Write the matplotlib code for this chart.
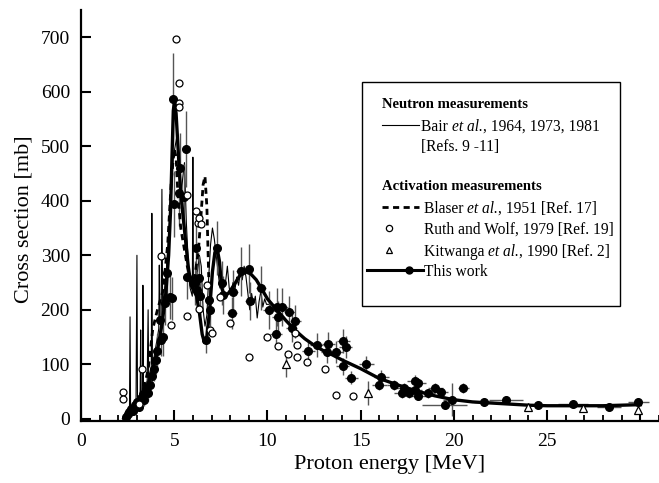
import numpy as np
import matplotlib
matplotlib.use('Agg')
import matplotlib.pyplot as plt
from matplotlib.patches import Rectangle
from matplotlib.lines import Line2D

plt.rcParams['font.family'] = 'Liberation Serif'

# Bair et al. neutron measurements (thin line)
bair_e = [2.3, 2.5, 2.6, 2.63, 2.66, 2.8, 2.95, 3.0, 3.03, 3.1,
          3.17, 3.2, 3.23, 3.3, 3.32, 3.35, 3.45, 3.55, 3.6, 3.63,
          3.7, 3.77, 3.8, 3.83, 3.9, 4.0, 4.1, 4.17, 4.2, 4.23,
          4.3, 4.34, 4.38, 4.45, 4.55, 4.65, 4.75, 4.85, 4.95, 5.05,
          5.15, 5.25, 5.35, 5.45, 5.55, 5.65, 5.75, 5.85, 5.97, 6.0,
          6.03, 6.25, 6.35, 6.45, 6.55, 6.65, 6.75, 6.85, 6.95, 7.05,
          7.15, 7.25, 7.35, 7.45, 7.55, 7.65, 7.75, 7.85, 7.95, 8.05,
          8.15, 8.25, 8.35, 8.45, 8.55, 8.65, 8.75, 8.85, 8.95, 9.05,
          9.15, 9.25, 9.35, 9.45, 9.55, 9.65, 9.75, 9.85, 9.95, 10.1,
          10.3, 10.5]
bair_xs = [3, 8, 12, 187, 14, 20, 25, 300, 28, 32,
           40, 163, 45, 50, 245, 55, 60, 70, 200, 75,
           85, 95, 377, 100, 110, 130, 150, 165, 282, 180,
           190, 421, 200, 230, 260, 310, 360, 420, 480, 500,
           520, 470, 400, 440, 470, 360, 290, 240, 225, 480,
           240, 270, 300, 280, 200, 170, 190, 260, 320, 350,
           330, 300, 270, 240, 260, 240, 250, 280, 240, 230,
           250, 235, 260, 245, 270, 255, 280, 260, 230, 200,
           230, 210, 225, 185, 215, 235, 205, 220, 210, 210,
           200, 195]

# Blaser et al. activation (dashed)
blaser_e = [3.0, 3.3, 3.6, 3.85, 4.1, 4.4, 4.65, 4.85, 5.0, 5.1, 5.2,
            5.35, 5.5, 5.7, 5.9, 6.1, 6.3, 6.45, 6.55, 6.65, 6.75, 6.85]
blaser_xs = [20, 45, 90, 165, 200, 235, 320, 440, 495, 480, 410,
             350, 320, 280, 250, 260, 310, 380, 430, 445, 390, 260]

# Ruth and Wolf (open circles)
rw_e = [2.25, 2.25, 3.1, 3.27, 4.3, 4.83, 5.09, 5.27, 5.27, 5.25,
        5.68, 5.68, 6.17, 6.28, 6.33, 6.43, 6.33, 6.76, 6.92, 7.0,
        7.45, 8.0, 9.0, 10.0, 10.56, 11.1, 11.5, 11.6, 11.6, 12.1,
        13.1, 13.7, 14.6]
rw_xs = [49, 37, 27, 92, 299, 172, 696, 616, 580, 572,
         410, 189, 381, 360, 368, 357, 201, 245, 163, 158,
         224, 176, 114, 150, 134, 119, 157, 135, 114, 105,
         91, 44, 42]

# Kitwanga et al. (open triangles)
kw_e = [11.0, 15.4, 24.0, 26.9, 29.9]
kw_xs = [100, 47, 22, 19, 16]
kw_dy = [24, 22, 4, 4, 4]

# This work: points with errors
tw_e = [2.4, 2.5, 2.6, 2.7, 2.8, 2.9, 3.0, 3.1, 3.2, 3.3,
        3.4, 3.5, 3.6, 3.7, 3.8, 3.9, 4.0, 4.1, 4.24, 4.3,
        4.4, 4.5, 4.6, 4.77, 4.9, 4.93, 4.99, 5.27, 5.3, 5.52,
        5.63, 5.68, 6.1, 6.17, 6.2, 6.33, 6.38, 6.7, 6.86, 6.92,
        7.28, 7.56, 7.6, 8.1, 8.15, 8.58, 9.0, 9.06, 9.65, 10.08,
        10.46, 10.5, 10.57, 10.8, 11.17, 11.3, 11.5, 12.2, 12.64, 13.2,
        13.25, 13.7, 14.03, 14.07, 14.2, 14.5, 15.3, 16.0, 16.1, 16.8,
        17.2, 17.3, 17.6, 17.9, 17.9, 18.1, 18.1, 18.6, 19.0, 19.3,
        19.5, 19.9, 20.5, 21.6, 22.8, 24.5, 26.4, 28.3, 29.9]
tw_xs = [4, 9, 13, 18, 14, 25, 30, 22, 38, 46,
         35, 55, 48, 62, 78, 92, 108, 125, 181, 145,
         150, 212, 267, 224, 221, 586, 394, 414, 460, 407,
         495, 260, 249, 313, 236, 258, 225, 145, 218, 200,
         313, 249, 227, 194, 233, 271, 275, 216, 240, 200,
         156, 205, 187, 205, 196, 166, 179, 125, 136, 123,
         137, 123, 96, 143, 132, 75, 100, 62, 77, 62,
         47, 56, 47, 70, 52, 65, 41, 47, 56, 49,
         26, 35, 57, 30, 35, 25, 28, 21, 31]
tw_dx = [0.08, 0.08, 0.1, 0.1, 0.1, 0.1, 0.1, 0.1, 0.1, 0.1,
         0.1, 0.1, 0.1, 0.1, 0.1, 0.1, 0.1, 0.1, 0.12, 0.12,
         0.12, 0.12, 0.12, 0.12, 0.12, 0.12, 0.12, 0.12, 0.12, 0.12,
         0.15, 0.15, 0.15, 0.15, 0.15, 0.15, 0.15, 0.15, 0.15, 0.15,
         0.2, 0.2, 0.2, 0.25, 0.25, 0.25, 0.25, 0.25, 0.25, 0.3,
         0.3, 0.3, 0.3, 0.3, 0.3, 0.3, 0.3, 0.35, 0.35, 0.35,
         0.35, 0.35, 0.35, 0.35, 0.35, 0.35, 0.4, 0.4, 0.4, 0.4,
         0.4, 0.4, 0.4, 0.4, 0.4, 0.4, 0.4, 0.4, 0.4, 0.4,
         1.2, 0.5, 0.3, 0.5, 0.9, 0.3, 0.8, 0.65, 0.55]
tw_dy = [3, 4, 5, 6, 6, 8, 10, 8, 12, 14,
         12, 15, 15, 18, 20, 22, 25, 30, 35, 30,
         35, 40, 45, 40, 40, 85, 60, 60, 65, 60,
         70, 40, 40, 45, 35, 40, 35, 25, 35, 30,
         50, 40, 35, 30, 40, 45, 45, 35, 40, 35,
         25, 35, 30, 35, 30, 25, 30, 20, 22, 20,
         22, 20, 16, 22, 20, 12, 15, 10, 12, 10,
         8, 9, 8, 10, 8, 10, 7, 8, 9, 8,
         6, 30, 9, 5, 7, 4, 5, 4, 6]

# This work: fitted curve
fit_e = [2.3, 2.6, 2.9, 3.2, 3.5, 3.8, 4.1, 4.35, 4.55, 4.7,
         4.8, 4.88, 4.95, 5.02, 5.1, 5.2, 5.3, 5.45, 5.6, 5.75,
         5.9, 6.05, 6.2, 6.35, 6.5, 6.62, 6.75, 6.9, 7.05, 7.18,
         7.3, 7.42, 7.55, 7.7, 7.9, 8.2, 8.5, 8.8, 9.1, 9.4,
         9.7, 10.0, 10.5, 11.0, 11.5, 12.0, 12.5, 13.0, 13.5, 14.0,
         15, 16, 17, 18, 19, 20, 21, 22, 23, 24, 25, 26, 27, 28, 29, 30]
fit_xs = [0, 8, 20, 35, 55, 85, 125, 175, 230, 300,
          380, 480, 565, 585, 560, 500, 440, 380, 330, 280,
          245, 235, 225, 195, 155, 140, 150, 200, 270, 305,
          313, 290, 240, 225, 230, 245, 262, 270, 266, 255,
          238, 220, 200, 180, 162, 147, 135, 125, 117, 108,
          92, 74, 62, 51, 42, 35, 31, 29, 27, 25, 24, 24, 24, 24, 25, 26]

W, H = 659, 483
fig = plt.figure(figsize=(W / 100, H / 100), dpi=100)
ax = fig.add_axes([81 / W, 62 / H, 578 / W, 411 / H])

ax.plot(bair_e, bair_xs, color='black', lw=0.8, zorder=2)
ax.plot(blaser_e, blaser_xs, color='black', lw=2, ls=(0, (2.2, 1.6)), zorder=3)
ax.errorbar(tw_e, tw_xs, xerr=tw_dx, yerr=tw_dy, fmt='none',
            ecolor='#555555', elinewidth=1, zorder=2)
ax.errorbar(kw_e, kw_xs, yerr=kw_dy, fmt='none', ecolor='#555555',
            elinewidth=1, zorder=2)
ax.plot(fit_e, fit_xs, color='black', lw=2.4, zorder=4)
ax.plot(tw_e, tw_xs, 'o', color='black', ms=5.5, zorder=5)
ax.plot(rw_e, rw_xs, 'o', mfc='white', mec='black', mew=0.9, ms=5, zorder=6)
ax.plot(kw_e, kw_xs, '^', mfc='white', mec='black', mew=0.9, ms=5.5, zorder=6)

ax.set_xlim(0, 31)
ax.set_ylim(-4, 750)
ax.spines['top'].set_visible(False)
ax.spines['right'].set_visible(False)
ax.spines['left'].set_linewidth(1.6)
ax.spines['bottom'].set_linewidth(1.6)
ax.set_xticks([0, 5, 10, 15, 20, 25, 30])
ax.set_xticklabels(['0', '5', '10', '15', '20', '25', ''])
ax.set_xticks(np.arange(0, 32, 1), minor=True)
ax.set_yticks(np.arange(0, 800, 100))
ax.tick_params(axis='both', which='major', direction='in', width=1.5,
               labelsize=14)
ax.tick_params(axis='x', which='major', length=8, pad=9)
ax.tick_params(axis='x', which='minor', direction='in', length=4, width=1.3)
ax.tick_params(axis='y', which='major', length=7, pad=8)
ax.set_xlabel('Proton energy [MeV]', fontsize=16)
ax.set_ylabel('Cross section [mb]', fontsize=16)
ax.xaxis.set_label_coords(0.533, -0.082)
ax.yaxis.set_label_coords(-0.083, 0.49)


def fx(px):
    return px / W


def fy(py):
    return 1 - py / H


renderer = fig.canvas.get_renderer()


def rich(px, py, parts, size):
    # parts: list of (text, style); placed one after another
    x = px
    for s, style in parts:
        t = fig.text(fx(x), fy(py), s, fontsize=size, style=style,
                     va='center_baseline', zorder=11)
        x += t.get_window_extent(renderer).width


tr = fig.transFigure
fig.add_artist(Rectangle((fx(362), fy(306)), fx(620) - fx(362), fy(82) - fy(306),
                         transform=tr, fc='white', ec='black', lw=1, zorder=10))
fs = 11.2
fb = 10.6
fig.text(fx(382), fy(103), 'Neutron measurements', fontsize=fb, weight='bold',
         va='center_baseline', zorder=11)
fig.add_artist(Line2D([fx(382), fx(419)], [fy(125), fy(125)], color='black',
                      lw=0.8, transform=tr, zorder=11))
rich(421, 125, [('Bair ', 'normal'), ('et al.', 'italic'),
                (', 1964, 1973, 1981', 'normal')], fs)
fig.text(fx(421), fy(145), '[Refs. 9 -11]', fontsize=fs, va='center_baseline', zorder=11)
fig.text(fx(382), fy(185), 'Activation measurements', fontsize=fb, weight='bold',
         va='center_baseline', zorder=11)
fig.add_artist(Line2D([fx(382), fx(419)], [fy(207), fy(207)], color='black',
                      lw=2, ls=(0, (2.2, 1.6)), transform=tr, zorder=11))
rich(424, 207, [('Blaser ', 'normal'), ('et al.', 'italic'),
                (', 1951 [Ref. 17]', 'normal')], fs)
fig.add_artist(Line2D([fx(389)], [fy(228)], marker='o', mfc='white', mec='black',
                      mew=0.9, ms=4.5, transform=tr, zorder=11))
fig.text(fx(424), fy(228), 'Ruth and Wolf, 1979 [Ref. 19]', fontsize=fs,
         va='center_baseline', zorder=11)
fig.add_artist(Line2D([fx(389)], [fy(250)], marker='^', mfc='white', mec='black',
                      mew=0.9, ms=5, transform=tr, zorder=11))
rich(424, 250, [('Kitwanga ', 'normal'), ('et al.', 'italic'),
                (', 1990 [Ref. 2]', 'normal')], fs)
fig.add_artist(Line2D([fx(367), fx(423)], [fy(270), fy(270)], color='black',
                      lw=2.2, transform=tr, zorder=11))
fig.add_artist(Line2D([fx(409)], [fy(270)], marker='o', color='black', ms=5,
                      transform=tr, zorder=12))
fig.text(fx(424), fy(270), 'This work', fontsize=fs, va='center_baseline', zorder=11)

fig.savefig('out.png', dpi=100)
